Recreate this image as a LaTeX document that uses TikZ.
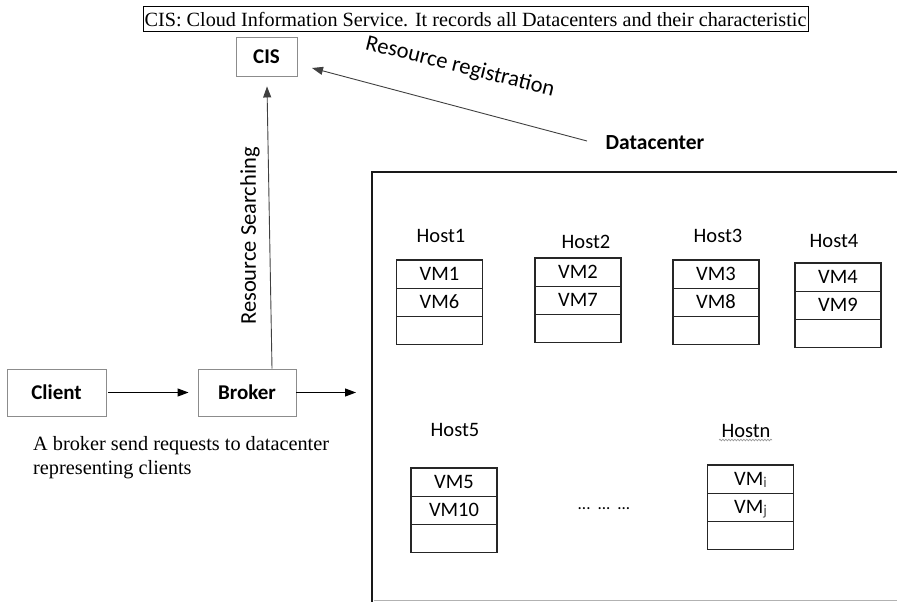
\documentclass[tikz,border=0pt]{standalone}
\usepackage{fontspec}
\setmainfont{Liberation Serif}
\newfontfamily\calib{Carlito}
\usetikzlibrary{arrows.meta,calc,decorations.pathmorphing}

\tikzset{
  plainbox/.style={draw=black!45, line width=0.9pt, fill=white, inner sep=0pt,
    font=\calib\bfseries\fontsize{21}{24}\selectfont},
  vmcell/.style={draw=black!85, line width=1.1pt, minimum width=86pt, minimum height=28.3pt,
    inner sep=0pt, outer sep=0pt, text height=13pt, text depth=0pt,
    font=\calib\fontsize{20.5}{24}\selectfont},
  hostlabel/.style={anchor=base, inner sep=0pt, font=\calib\fontsize{20.5}{24}\selectfont},
  arr/.style={line width=1.1pt, -{Triangle[length=11pt,width=8pt]}},
  thinarr/.style={line width=0.9pt, draw=black!75, -{Triangle[length=11pt,width=8pt]}},
  sidelabel/.style={inner sep=0pt, font=\calib\fontsize{22.5}{24}\selectfont},
}

\newcommand\hoststack[8]{%
  \node[vmcell] (#1a) at (#2,#3+14.15) {#7};
  \node[vmcell,anchor=north] (#1b) at (#1a.south) {#8};
  \node[vmcell,anchor=north] (#1c) at (#1b.south) {};
  \node[hostlabel] (#1l) at (#4,#5) {#6};
}

\begin{document}
\begin{tikzpicture}[x=1pt,y=-1pt]
\useasboundingbox (0,0) rectangle (897,602);

% caption
\node[draw=black, line width=1pt, minimum width=665pt, minimum height=25pt, inner sep=0pt,
  font=\fontsize{20.2}{24}\selectfont] (cap) at (475.5,19.5)
  {CIS: Cloud Information Service. It records all Datacenters and their characteristic};

% CIS, client, broker
\node[plainbox, minimum width=61pt, minimum height=39pt] (cis) at (266.5,56.5) {CIS};
\node[plainbox, minimum width=99pt, minimum height=47pt] (client) at (56.5,392.5) {Client};
\node[plainbox, minimum width=98pt, minimum height=47pt] (broker) at (247,392.5) {Broker};

% datacenter label and frame
\node[inner sep=0pt, font=\calib\bfseries\fontsize{21.5}{24}\selectfont] (dc) at (655,143) {Datacenter};
\draw[line width=2.8pt, black!90] (372,602) -- (372,172) -- (897,172);
\draw[line width=1.6pt, black!30] (373.5,600.5) -- (897,600.5);

% connectors
\draw[arr, shorten <=2pt, shorten >=9pt] (client.east) -- (broker.west);
\coordinate (dcin) at (356,392.5);
\draw[arr] (broker.east) -- (dcin);
\draw[thinarr] ($(broker.north)+(25,0)$) -- ($(cis.south)+(0.5,10)$);
\coordinate (regstart) at (587,141);
\coordinate (regend) at (312,68);
\draw[thinarr] (regstart) -- (regend);

% connector labels
\node[sidelabel, rotate=90] (rs) at (250,236) {Resource Searching};
\node[sidelabel, rotate=-14] (rr) at (460,67) {Resource registration};

% note
\node[anchor=base west, align=left, inner sep=0pt, font=\fontsize{20.3}{24}\selectfont] (note) at (33,474)
  {A broker send requests to datacenter\\representing clients};

% hosts
\hoststack{ha}{439.5}{260}{441}{242.5}{Host1}{VM1}{VM6}
\hoststack{hb}{578}{258}{586}{248.5}{Host2}{VM2}{VM7}
\hoststack{hc}{716}{260}{718}{242.5}{Host3}{VM3}{VM8}
\hoststack{hd}{838}{263}{834}{247.5}{Host4}{VM4}{VM9}
\hoststack{he}{454}{468}{455}{436.5}{Host5}{VM5}{VM10}
\hoststack{hn}{750.5}{465}{746}{437.5}{Hostn}%
  {VM\raisebox{-1.5pt}{\fontsize{15}{15}\selectfont\color{black!70}i}}%
  {VM\raisebox{-1.5pt}{\fontsize{15}{15}\selectfont\color{black!70}j}}

% wavy underline under Hostn
\coordinate (wa) at (719,440);
\coordinate (wb) at (772,440);
\draw[black!40, line width=0.7pt, decorate, decoration={snake, amplitude=0.8pt, segment length=3pt}] (wa) -- (wb);

% ellipsis
\node[inner sep=0pt, font=\calib\fontsize{17}{17}\selectfont] (dots) at (604,509)
  {...\hspace{7pt}...\hspace{7pt}...};
\end{tikzpicture}
\end{document}
